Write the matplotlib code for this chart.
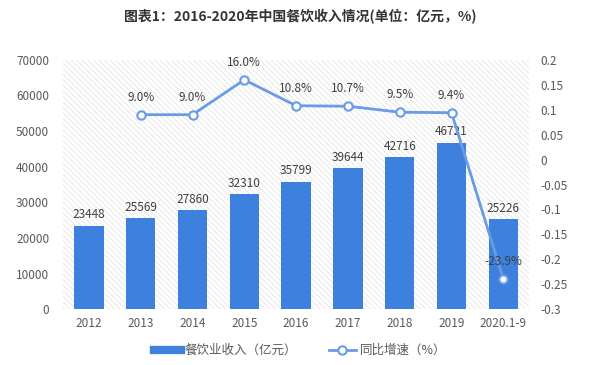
import matplotlib
matplotlib.use('Agg')
import matplotlib.pyplot as plt
from matplotlib.patches import Rectangle
from matplotlib.lines import Line2D

plt.rcParams['font.family'] = ['Noto Sans CJK SC', 'DejaVu Sans']
plt.rcParams['hatch.linewidth'] = 0.6

years = ['2012', '2013', '2014', '2015', '2016', '2017', '2018', '2019', '2020.1-9']
income = [23448, 25569, 27860, 32310, 35799, 39644, 42716, 46721, 25226]
growth = [None, 0.090, 0.090, 0.160, 0.108, 0.107, 0.095, 0.094, -0.239]
growth_labels = ['', '9.0%', '9.0%', '16.0%', '10.8%', '10.7%', '9.5%', '9.4%', '-23.9%']

bar_color = '#3d80dd'
line_color = '#6a9be6'
text_color = '#404040'
tick_color = '#595959'

fig = plt.figure(figsize=(6, 3.65), dpi=100)
ax = fig.add_axes([0.105, 0.153, 0.777, 0.683])

# faint hatched background of plot area
ax.add_patch(Rectangle((0, 0), 1, 1, transform=ax.transAxes, facecolor='white',
                       edgecolor='#e4e4e4', hatch='\\\\\\\\\\\\', linewidth=0, zorder=0))

x = list(range(len(years)))
ax.bar(x, income, width=0.57, color=bar_color, zorder=2)
for xi, v in zip(x, income):
    ax.text(xi, v + 1200, str(v), ha='center', va='bottom', fontsize=8.5, color=text_color, zorder=5)

ax.set_xlim(-0.5, len(years) - 0.5)
ax.set_ylim(0, 70000)
ax.set_yticks(range(0, 70001, 10000))
ax.set_xticks(x)
ax.set_xticklabels(years)
for s in ax.spines.values():
    s.set_visible(False)
ax.tick_params(axis='both', length=0, labelsize=8.5, colors=tick_color)
ax.tick_params(axis='y', pad=10)
ax.tick_params(axis='x', pad=6)

ax2 = ax.twinx()
gx = [xi for xi, g in zip(x, growth) if g is not None]
gy = [g for g in growth if g is not None]
ax2.plot(gx, gy, color=line_color, linewidth=2, marker='o', markersize=6,
         markerfacecolor='white', markeredgecolor=line_color, markeredgewidth=1.5, zorder=4)
for xi, g, lab in zip(x, growth, growth_labels):
    if g is None:
        continue
    ax2.text(xi, g + 0.022, lab, ha='center', va='bottom', fontsize=8.5, color=text_color, zorder=6)
ax2.set_ylim(-0.3, 0.2)
ax2.set_yticks([0.2, 0.15, 0.1, 0.05, 0, -0.05, -0.1, -0.15, -0.2, -0.25, -0.3])
ax2.set_yticklabels(['0.2', '0.15', '0.1', '0.05', '0', '-0.05', '-0.1', '-0.15', '-0.2', '-0.25', '-0.3'])
for s in ax2.spines.values():
    s.set_visible(False)
ax2.tick_params(axis='y', length=0, labelsize=8.5, colors=tick_color, pad=8)

fig.text(0.5, 0.955, '图表1：2016-2020年中国餐饮收入情况(单位：亿元，%)', ha='center', va='center',
         fontsize=10, fontweight='bold', color='#333333')

handles = [Line2D([0], [0], color=bar_color, linewidth=6),
           Line2D([0], [0], color=line_color, linewidth=2, marker='o', markersize=6,
                  markerfacecolor='white', markeredgecolor=line_color, markeredgewidth=1.5)]
fig.legend(handles, ['餐饮业收入（亿元）', '同比增速（%）'], loc='center', bbox_to_anchor=(0.5, 0.04),
           ncol=2, frameon=False, fontsize=9, labelcolor=tick_color, handlelength=2.2,
           columnspacing=2.5, handletextpad=0.3)

fig.savefig('out.png', dpi=100)
